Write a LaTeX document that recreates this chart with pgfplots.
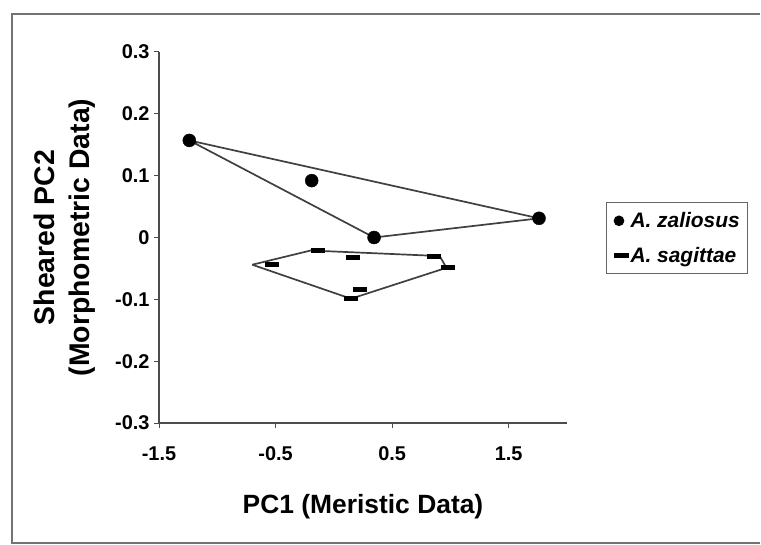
\documentclass[border=0pt]{standalone}
\usepackage{fontspec}
\setmainfont{Liberation Sans}
\usepackage{pgfplots}
\pgfplotsset{compat=1.18}
\newcommand{\tl}{\bfseries\fontsize{20}{20}\selectfont}
\begin{document}
\begin{tikzpicture}[x=1bp,y=1bp]
\useasboundingbox (0,0) rectangle (761,-545);
\fill[white] (0,0) rectangle (761,-545);
\draw[black!55, line width=1.6bp] (760,-14) -- (12,-14) -- (12,-543) -- (760,-543);
\begin{axis}[
  at={(159bp,-423bp)}, anchor=south west,
  width=408bp, height=371bp, scale only axis,
  xmin=-1.5, xmax=2, ymin=-0.3, ymax=0.3,
  axis x line=bottom, axis y line=left,
  axis line style={-, black!70, line width=1.3bp},
  xtick={-1.5,-0.5,0.5,1.5},
  xticklabels={{\tl -1.5},{\tl -0.5},{\tl 0.5},{\tl 1.5}},
  ytick={-0.3,-0.2,-0.1,0,0.1,0.2,0.3},
  yticklabels={{\tl -0.3},{\tl -0.2},{\tl -0.1},{\tl 0},{\tl 0.1},{\tl 0.2},{\tl 0.3}},
  tick align=outside, major tick length=5bp,
  tick style={black!70, line width=1bp},
  xticklabel style={yshift=-15bp},
  yticklabel style={xshift=-1bp},
  xlabel={PC1 (Meristic Data)},
  ylabel={Sheared PC2\\(Morphometric Data)},
  every axis x label/.style={at={(axis description cs:0.5,-0.2264)}, anchor=center,
     font=\bfseries\fontsize{26.5}{26.5}\selectfont},
  every axis y label/.style={at={(axis description cs:-0.2316,0.5)}, anchor=center, rotate=90,
     align=center, font=\bfseries\fontsize{28.5}{35}\selectfont},
  legend style={at={(axis description cs:1.0956,0.5957)}, anchor=north west,
     draw=black!60, line width=1bp, font=\bfseries\itshape\fontsize{21}{21}\selectfont,
     inner xsep=6bp, inner ysep=8bp, row sep=14bp},
  legend cell align=left,
  clip=false,
]
\addplot[forget plot, black!75, line width=1.7bp] coordinates {
  (-1.24,0.157) (1.76,0.031) (0.345,0.0) (-1.24,0.157)};
\addplot[forget plot, black!75, line width=1.7bp] coordinates {
  (-0.70,-0.044) (-0.198,-0.021) (0.908,-0.030) (0.966,-0.049) (0.147,-0.099) (-0.70,-0.044)};
\addplot[only marks, mark=*, mark size=6.5bp, black,
  legend image code/.code={\fill[black] (6bp,0) circle (4.8bp); \path (0,0) (12bp,0);}] coordinates {
  (-1.24,0.157) (-0.19,0.092) (0.345,0.0) (1.76,0.031)};
\addlegendentry{A. zaliosus}
\addplot[only marks, mark=-, mark size=7bp, mark options={line width=5bp}, black,
  legend image code/.code={\fill[black] (1bp,-1.7bp) rectangle (15bp,1.7bp); \path (0,0) (12bp,0);}] coordinates {
  (-0.53,-0.044) (-0.14,-0.021) (0.16,-0.033) (0.86,-0.030) (0.98,-0.049) (0.22,-0.084) (0.147,-0.099)};
\addlegendentry{A. sagittae}
\end{axis}
\end{tikzpicture}
\end{document}
